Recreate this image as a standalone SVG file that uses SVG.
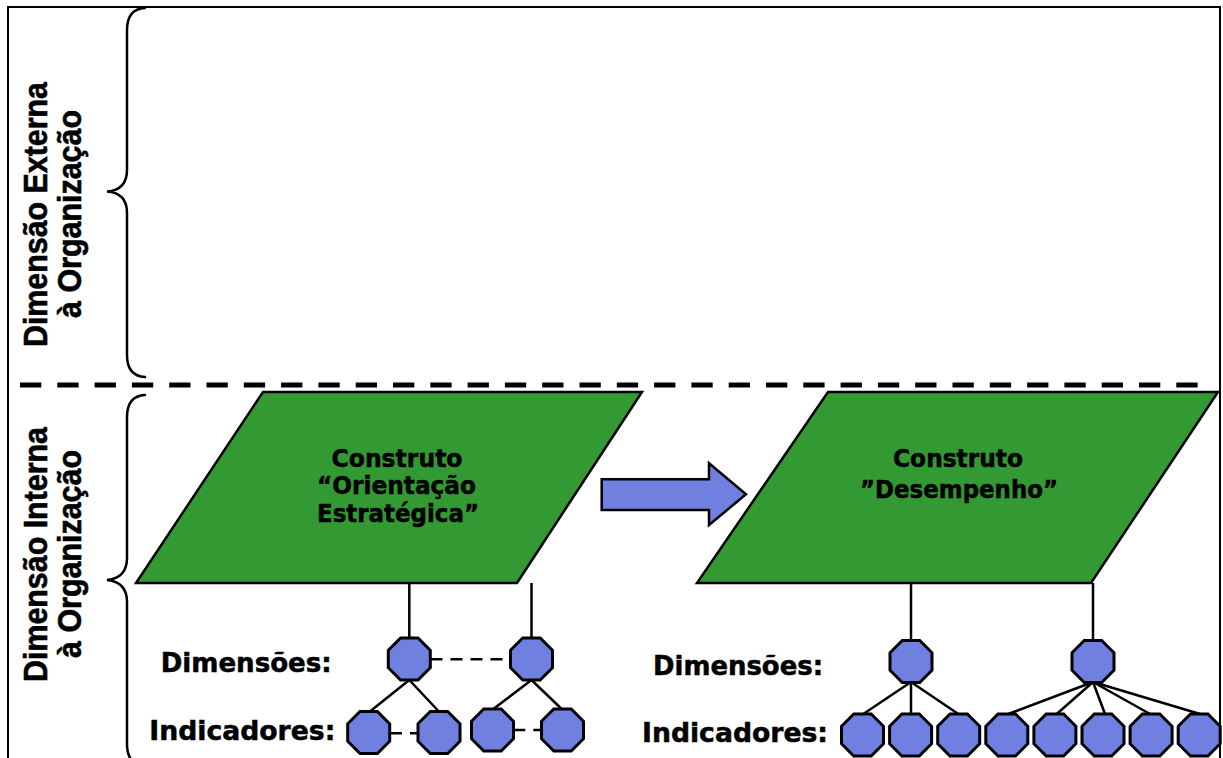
<svg xmlns="http://www.w3.org/2000/svg" width="1223" height="758" viewBox="0 0 1223 758">
  <defs>
    <style>
      .frame { fill: none; stroke: #000; stroke-width: 2; }
      .sep { fill: none; stroke: #000; stroke-width: 5; stroke-dasharray: 21.3 16; }
      .brace { fill: none; stroke: #000; stroke-width: 2.5; stroke-linecap: round; }
      .side { font-family: "Liberation Sans", Arial, sans-serif; font-weight: bold; font-size: 33px; fill: #000; stroke: #000; stroke-width: 0.6; text-anchor: middle; }
      .construct { fill: #339933; stroke: #000; stroke-width: 2.5; stroke-linejoin: miter; }
      .ctext { font-family: "DejaVu Sans", Verdana, sans-serif; font-weight: bold; font-size: 24px; fill: #000; stroke: #000; stroke-width: 0.5; text-anchor: middle; }
      .label { font-family: "DejaVu Sans", Verdana, sans-serif; font-weight: bold; font-size: 26px; fill: #000; stroke: #000; stroke-width: 0.5; }
      .link { fill: none; stroke: #000; stroke-width: 2.5; }
      .dlink { fill: none; stroke: #000; stroke-width: 2.5; stroke-dasharray: 12 8; }
      .oct { fill: #7080e0; stroke: #000; stroke-width: 3; stroke-linejoin: miter; }
      .flow { fill: #7080e0; stroke: #000; stroke-width: 2.5; stroke-linejoin: miter; }
    </style>
    <polygon id="octagon" class="oct" points="-8.7,-21 8.7,-21 21,-8.7 21,8.7 8.7,21 -8.7,21 -21,8.7 -21,-8.7"/>
  </defs>

  <!-- outer frame (open at the bottom) -->
  <path class="frame" d="M8,758 V7 H1220 V758"/>

  <!-- boundary between external and internal dimensions -->
  <line class="sep" x1="20" y1="385" x2="1200" y2="385"/>

  <!-- curly braces -->
  <g id="brace-external">
    <path class="brace" d="M145,8 Q127,9 127,30 V170 Q127,190 107,191.5 Q127,193 127,213 V355 Q127,376 145,377"/>
  </g>
  <g id="brace-internal">
    <path class="brace" d="M145,395 Q127,396 127,417 V558 Q127,578 107,580 Q127,582 127,602 V744 Q127,765 145,766"/>
  </g>

  <!-- side labels -->
  <g id="label-external">
    <text class="side" transform="translate(47,214.5) rotate(-90)" textLength="265" lengthAdjust="spacingAndGlyphs">Dimensão Externa</text>
    <text class="side" transform="translate(81,214) rotate(-90)" textLength="208" lengthAdjust="spacingAndGlyphs">à Organização</text>
  </g>
  <g id="label-internal">
    <text class="side" transform="translate(47,554.5) rotate(-90)" textLength="255" lengthAdjust="spacingAndGlyphs">Dimensão Interna</text>
    <text class="side" transform="translate(81,554) rotate(-90)" textLength="208" lengthAdjust="spacingAndGlyphs">à Organização</text>
  </g>

  <!-- connectors -->
  <g id="connectors">
    <!-- construct to dimensions -->
    <line class="link" x1="409.3" y1="583" x2="409.3" y2="638"/>
    <line class="link" x1="531.5" y1="583" x2="531.5" y2="638"/>
    <line class="link" x1="911" y1="583" x2="911" y2="641"/>
    <line class="link" x1="1093" y1="583" x2="1093" y2="641"/>
    <!-- dimension to indicators (left construct) -->
    <line class="link" x1="409.3" y1="680" x2="369.3" y2="712"/>
    <line class="link" x1="409.3" y1="680" x2="439.3" y2="712"/>
    <line class="link" x1="531.5" y1="680" x2="493.3" y2="709"/>
    <line class="link" x1="531.5" y1="680" x2="561.7" y2="709"/>
    <!-- correlations -->
    <line class="dlink" x1="430.5" y1="659.3" x2="510.5" y2="659.3"/>
    <line class="dlink" x1="390" y1="733.3" x2="418.3" y2="733.3"/>
    <line class="dlink" x1="513.3" y1="730" x2="541.7" y2="730"/>
    <!-- dimension to indicators (right construct) -->
    <line class="link" x1="911" y1="682" x2="863.3" y2="714"/>
    <line class="link" x1="911" y1="682" x2="911" y2="714"/>
    <line class="link" x1="911" y1="682" x2="958.3" y2="714"/>
    <line class="link" x1="1093" y1="682" x2="1008.3" y2="714"/>
    <line class="link" x1="1093" y1="682" x2="1056.7" y2="714"/>
    <line class="link" x1="1093" y1="682" x2="1105" y2="714"/>
    <line class="link" x1="1093" y1="682" x2="1150" y2="714"/>
    <line class="link" x1="1093" y1="682" x2="1200" y2="714"/>
    <!-- causal arrow between constructs -->
    <polygon class="flow" points="601.7,479.3 709,479.3 709,463.3 746,494.3 709,525 709,510 601.7,510"/>
  </g>

  <!-- constructs -->
  <g id="construct-orientacao">
    <polygon class="construct" points="263,392 642,392 517,583 136,583"/>
    <text class="ctext" x="397" y="466.5" textLength="131" lengthAdjust="spacingAndGlyphs">Construto</text>
    <text class="ctext" x="396.5" y="494" textLength="159" lengthAdjust="spacingAndGlyphs">“Orientação</text>
    <text class="ctext" x="398" y="521.5" textLength="162" lengthAdjust="spacingAndGlyphs">Estratégica”</text>
  </g>
  <g id="construct-desempenho">
    <polygon class="construct" points="828,392 1218,392 1091,583 697,583"/>
    <text class="ctext" x="958" y="467.3" textLength="130" lengthAdjust="spacingAndGlyphs">Construto</text>
    <text class="ctext" x="959" y="498.3" textLength="198" lengthAdjust="spacingAndGlyphs">”Desempenho”</text>
  </g>

  <!-- row labels -->
  <g id="labels-left">
    <text class="label" x="160.7" y="671.7" textLength="171" lengthAdjust="spacingAndGlyphs">Dimensões:</text>
    <text class="label" x="149.3" y="740" textLength="186" lengthAdjust="spacingAndGlyphs">Indicadores:</text>
  </g>
  <g id="labels-right">
    <text class="label" x="653" y="675" textLength="170" lengthAdjust="spacingAndGlyphs">Dimensões:</text>
    <text class="label" x="642" y="741.7" textLength="186" lengthAdjust="spacingAndGlyphs">Indicadores:</text>
  </g>

  <!-- dimensions -->
  <g id="dim-oe-1"><use href="#octagon" x="409.3" y="659"/></g>
  <g id="dim-oe-2"><use href="#octagon" x="531.5" y="659"/></g>
  <g id="dim-des-1"><use href="#octagon" x="911" y="661.5"/></g>
  <g id="dim-des-2"><use href="#octagon" x="1093" y="661.5"/></g>

  <!-- indicators -->
  <g id="ind-oe-1"><use href="#octagon" x="368.7" y="732.5"/></g>
  <g id="ind-oe-2"><use href="#octagon" x="439" y="732.5"/></g>
  <g id="ind-oe-3"><use href="#octagon" x="492.5" y="730"/></g>
  <g id="ind-oe-4"><use href="#octagon" x="562.5" y="730"/></g>
  <g id="ind-des-1"><use href="#octagon" x="862.5" y="735"/></g>
  <g id="ind-des-2"><use href="#octagon" x="910.6" y="735"/></g>
  <g id="ind-des-3"><use href="#octagon" x="958.7" y="735"/></g>
  <g id="ind-des-4"><use href="#octagon" x="1006.8" y="735"/></g>
  <g id="ind-des-5"><use href="#octagon" x="1054.9" y="735"/></g>
  <g id="ind-des-6"><use href="#octagon" x="1103" y="735"/></g>
  <g id="ind-des-7"><use href="#octagon" x="1151.1" y="735"/></g>
  <g id="ind-des-8"><use href="#octagon" x="1199.2" y="735"/></g>
</svg>
